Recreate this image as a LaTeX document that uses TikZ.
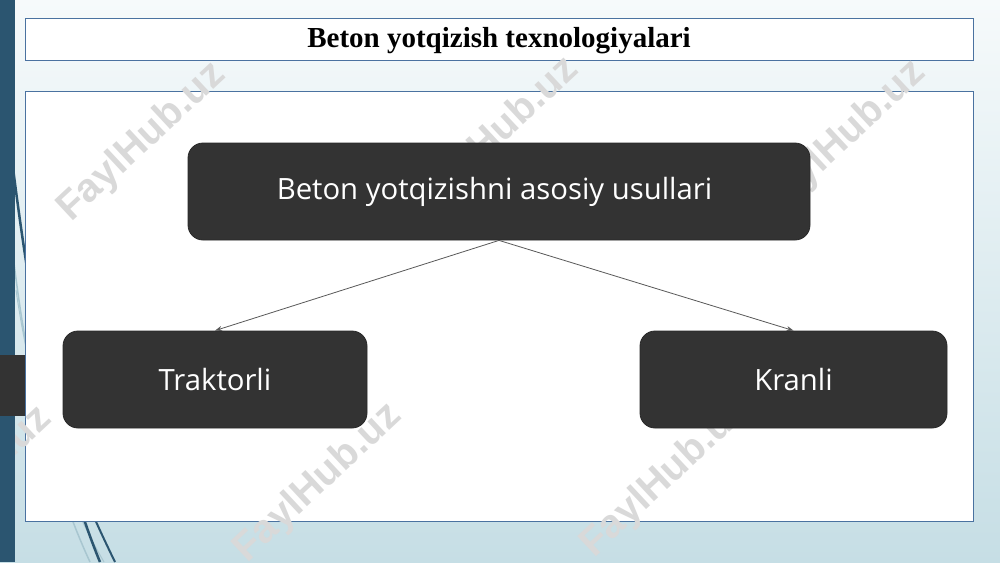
\documentclass[tikz,border=0pt]{standalone}
\usepackage{fontspec}
\setmainfont{Liberation Serif}
\newfontfamily\nodefont{Open Sans}
\newfontfamily\wmfont{Liberation Sans}
\usetikzlibrary{arrows.meta}
\definecolor{bgtop}{HTML}{F6FAFB}
\definecolor{bgbot}{HTML}{C6DEE5}
\definecolor{barblue}{HTML}{2B5570}
\definecolor{boxline}{HTML}{4A72A0}
\definecolor{nodegray}{HTML}{333333}
\definecolor{wisp}{HTML}{A8C6D0}
\definecolor{wm}{HTML}{D9D9D9}
\tikzset{
  panel/.style={draw=boxline, line width=1pt, fill=white},
  darkbox/.style={draw=nodegray!80!black, line width=0.8pt, fill=nodegray, rounded corners=15pt,
    text=white, font=\nodefont\fontsize{29.3}{33}\selectfont, inner sep=0pt},
  link/.style={draw=black!65, line width=0.8pt, -{Stealth[length=7pt,width=5pt]}},
  wmark/.style={text=wm, font=\wmfont\bfseries\fontsize{40}{44}\selectfont, rotate=43, inner sep=0pt}
}
\begin{document}
\begin{tikzpicture}[x=1pt,y=-1pt]
\useasboundingbox (0,0) rectangle (1000,562);
% background
\shade[top color=bgtop, bottom color=bgbot] (0,0) rectangle (1000,562);
% wisp lines
\draw[wisp, line width=1.5pt] (13,255) .. controls (28,380) and (52,480) .. (90,562);
\draw[wisp, line width=1pt] (16,290) .. controls (32,400) and (62,490) .. (104,562);
\draw[barblue, line width=2.5pt] (12,160) .. controls (32,320) and (58,460) .. (100,562);
\draw[barblue, line width=2pt] (30,300) .. controls (50,420) and (80,490) .. (115,562);
% panels
\draw[panel] (25,18) rectangle (973,60);
\node[font=\bfseries\fontsize{29}{33}\selectfont] (title) at (499,41) {Beton yotqizish texnologiyalari};
\draw[panel] (25,91) rectangle (973,521);
% watermarks
\foreach \cx/\cy [count=\i] in {142/142, 495/137, 842/140, -32/486, 318/483, 665/478}
  \node[wmark] (wm\i) at (\cx,\cy) {FaylHub.uz};
% left bar
\fill[barblue] (0,0) rectangle (15,562);
\fill[nodegray] (0,355) rectangle (25,416);
% nodes
\node[darkbox, minimum width=622pt, minimum height=97pt] (top) at (499,191.5) {\hspace*{-9pt}\raisebox{-3pt}{Beton yotqizishni asosiy usullari}};
\node[darkbox, minimum width=304pt, minimum height=97pt] (left) at (215,379.5) {\raisebox{-1pt}{Traktorli}};
\node[darkbox, minimum width=307pt, minimum height=97pt] (right) at (793.5,379.5) {\raisebox{-1pt}{Kranli}};
% connectors
\draw[link] (top.south) -- (left.north);
\draw[link] (top.south) -- (right.north);
\end{tikzpicture}
\end{document}
